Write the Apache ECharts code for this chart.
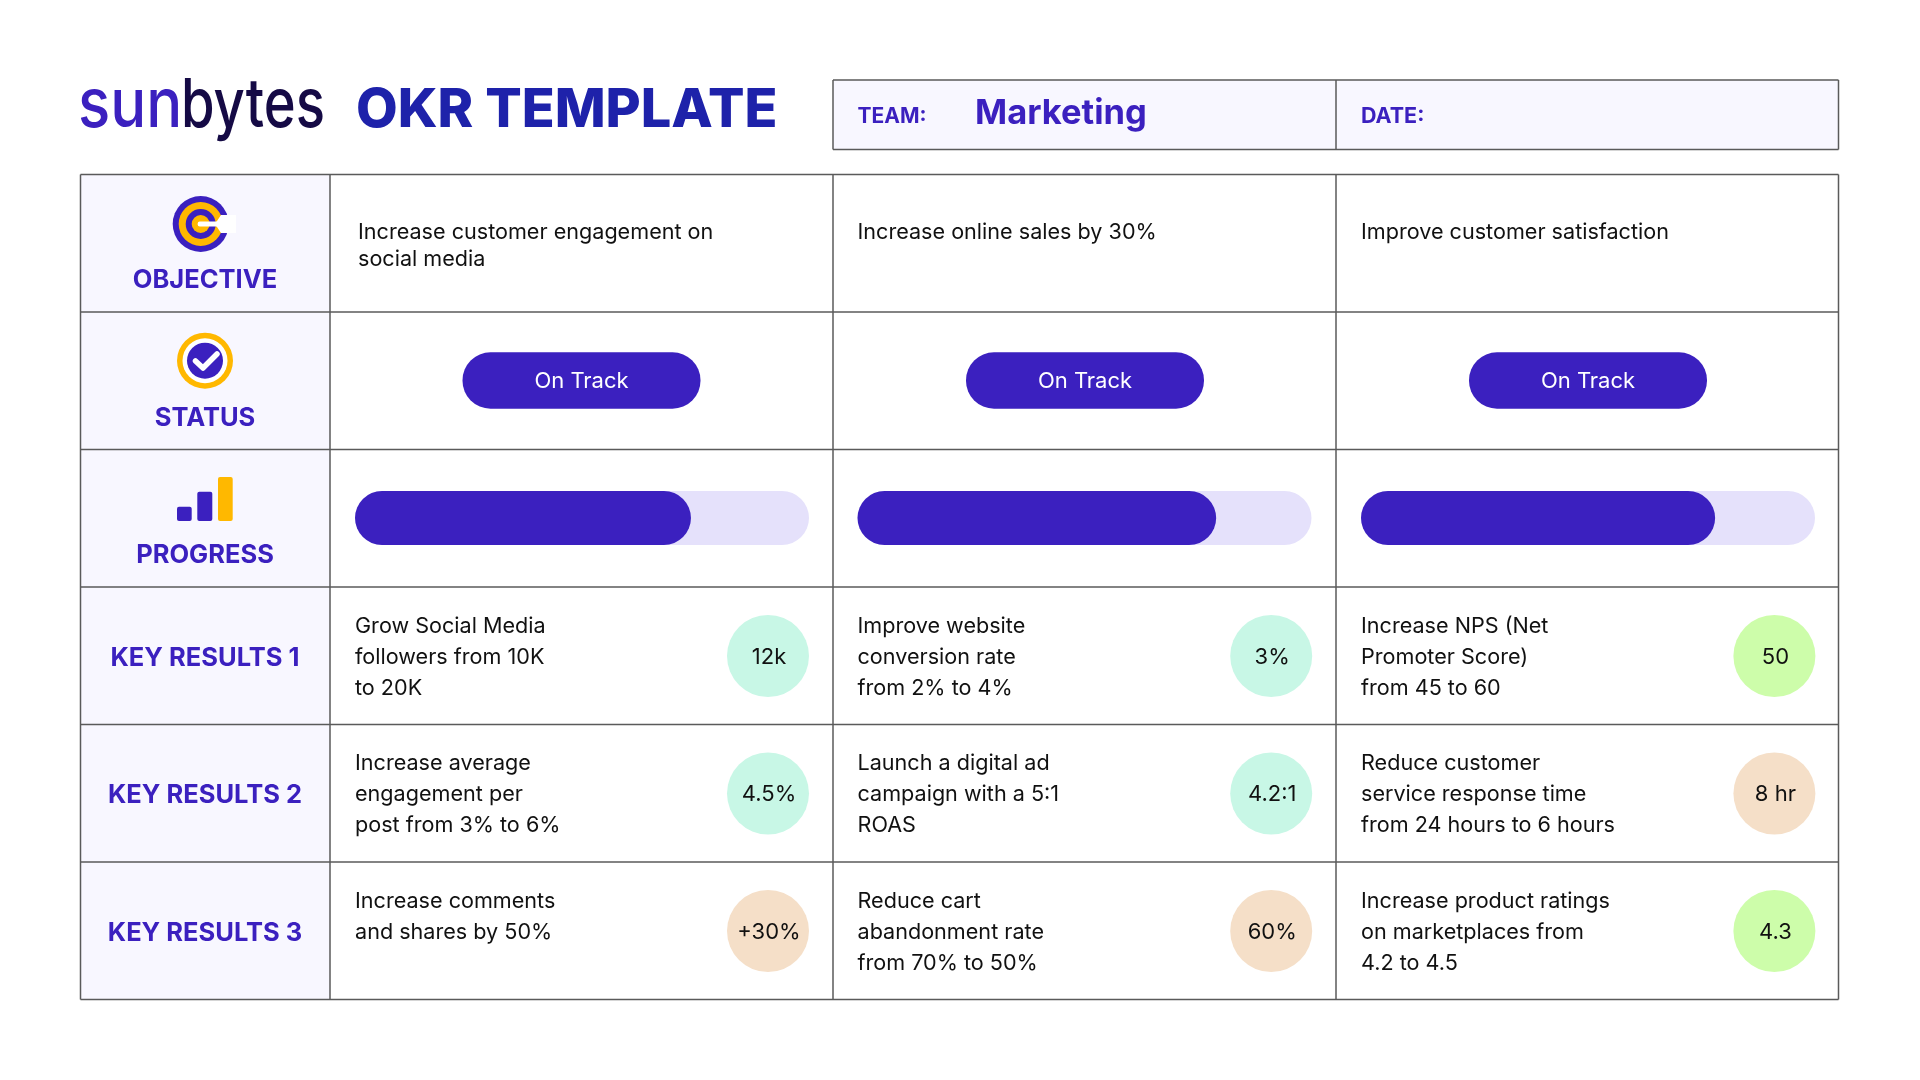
<!DOCTYPE html>
<html>

<head>
    <meta http-equiv="Content-Type" content="text/html; charset=utf-8">
    <title>OKR Template</title>
    <script src="https://cdn.jsdelivr.net/npm/echarts@6/dist/echarts.min.js"></script>
    <style>
        html, body { margin: 0; background: #fff; }
    </style>
</head>

<body>
    <div id="main" style="width: 1920px;height:1080px;"></div>
    <script type="text/javascript">
        var rowLabels = ['OBJECTIVE', 'STATUS', 'PROGRESS', 'KEY RESULTS 1', 'KEY RESULTS 2', 'KEY RESULTS 3'];
        var objectives = ['Increase customer engagement on\nsocial media', 'Increase online sales by 30%', 'Improve customer satisfaction'];
        var statuses = ['On Track', 'On Track', 'On Track'];
        var progressValues = [74, 79, 78];
        var keyResults = [
            ['Grow Social Media\nfollowers from 10K\nto 20K', 'Improve website\nconversion rate\nfrom 2% to 4%', 'Increase NPS (Net\nPromoter Score)\nfrom 45 to 60'],
            ['Increase average\nengagement per\npost from 3% to 6%', 'Launch a digital ad\ncampaign with a 5:1\nROAS', 'Reduce customer\nservice response time\nfrom 24 hours to 6 hours'],
            ['Increase comments\nand shares by 50%', 'Reduce cart\nabandonment rate\nfrom 70% to 50%', 'Increase product ratings\non marketplaces from\n4.2 to 4.5']
        ];
        var badgeLabels = [
            ['12k', '3%', '50'],
            ['4.5%', '4.2:1', '8 hr'],
            ['+30%', '60%', '4.3']
        ];
        var badgeColors = [
            ['#C8F7E6', '#C8F7E6', '#CDFDAA'],
            ['#C8F7E6', '#C8F7E6', '#F5DFC8'],
            ['#F5DFC8', '#F5DFC8', '#CDFDAA']
        ];

        var purple = '#3B20BF';
        var yellow = '#FFB800';
        var lineColor = '#5a5a5a';
        var cellBg = '#F8F7FF';
        var fontName = 'Inter';

        var rowY = [174.5, 312, 449.5, 587, 724.5, 862, 999.5];
        var colX = [80.5, 330, 833, 1336, 1838.5];
        var textX = [355, 857.5, 1361];
        var pillX = [581.5, 1085, 1588];

        function txt(s, x, y, size, weight, fill, align, valign, lh) {
            return {
                type: 'text',
                x: x,
                y: y,
                style: {
                    text: s,
                    fill: fill,
                    font: weight + ' ' + size + 'px ' + fontName,
                    textAlign: align || 'left',
                    textVerticalAlign: valign || 'middle',
                    lineHeight: lh
                }
            };
        }

        function hline(x1, x2, y) {
            return { type: 'line', shape: { x1: x1, y1: y, x2: x2, y2: y }, style: { stroke: lineColor, lineWidth: 1.5 } };
        }

        function vline(x, y1, y2) {
            return { type: 'line', shape: { x1: x, y1: y1, x2: x, y2: y2 }, style: { stroke: lineColor, lineWidth: 1.5 } };
        }

        function circle(cx, cy, r, fill) {
            return { type: 'circle', shape: { cx: cx, cy: cy, r: r }, style: { fill: fill } };
        }

        function box(x, y, w, h, r, fill) {
            return { type: 'rect', shape: { x: x, y: y, width: w, height: h, r: r }, style: { fill: fill } };
        }

        var elements = [];

        // header
        elements.push(box(colX[2], 80, colX[4] - colX[2], 69.5, 0, cellBg));
        elements.push(hline(colX[2], colX[4], 80), hline(colX[2], colX[4], 149.5));
        elements.push(vline(colX[2], 80, 149.5), vline(colX[3], 80, 149.5), vline(colX[4], 80, 149.5));

        var sun = txt('sun', 78, 107, 68, 500, purple);
        var bytes = txt('bytes', 181, 107, 68, 500, '#150A45');
        sun.scaleX = 0.88;
        bytes.scaleX = 0.8;
        elements.push(sun, bytes);

        elements.push(txt('OKR TEMPLATE', 356, 111, 54, 800, '#1E22AA'));
        elements.push(txt('TEAM:', 857.5, 116.5, 21, 700, purple));
        elements.push(txt('Marketing', 975, 113.5, 34.5, 700, purple));
        elements.push(txt('DATE:', 1361, 116.5, 21.5, 700, purple));

        // table
        elements.push(box(colX[0], rowY[0], colX[1] - colX[0], rowY[6] - rowY[0], 0, cellBg));
        rowY.forEach(function (y) {
            elements.push(hline(colX[0], colX[4], y));
        });
        colX.forEach(function (x) {
            elements.push(vline(x, rowY[0], rowY[6]));
        });

        var labelY = [280.5, 418, 555.5, 658, 795.5, 933];
        rowLabels.forEach(function (s, i) {
            elements.push(txt(s, 205, labelY[i], 25.5, 700, purple, 'center'));
        });

        // objective icon
        elements.push(circle(200.7, 224, 28, purple), circle(200.7, 224, 22, yellow), circle(200.7, 224, 15, purple), circle(200.7, 224, 9, yellow));
        elements.push(box(197.7, 221.5, 24, 5, 2, '#fff'));
        elements.push({ type: 'polygon', shape: { points: [[215, 224], [221, 215], [236, 215], [236, 233], [221, 233]] }, style: { fill: '#fff' } });

        // status icon
        elements.push(circle(205, 360.7, 28, yellow), circle(205, 360.7, 22.5, '#fff'), circle(205, 360.7, 18, purple));
        elements.push({ type: 'polyline', shape: { points: [[195.5, 361], [203, 368], [217, 354]] }, style: { stroke: '#fff', lineWidth: 5.5, fill: null, lineCap: 'round', lineJoin: 'round' } });

        // progress icon
        elements.push(box(177, 506.7, 14.7, 14.3, 2, purple), box(197.3, 491.7, 15, 29.3, 2, purple), box(218, 477, 14.7, 44, 2, yellow));

        // objective text, status pills
        objectives.forEach(function (s, i) {
            elements.push(txt(s, [358, 857.5, 1361][i], 219, 21.6, 400, '#111', 'left', 'top', 27));
        });
        statuses.forEach(function (s, i) {
            elements.push(box(pillX[i] - 119, 352.3, 238, 56.4, 28, purple));
            elements.push(txt(s, pillX[i], 381.5, 22, 400, '#fff', 'center'));
        });

        // key results text
        keyResults.forEach(function (row, r) {
            row.forEach(function (s, c) {
                elements.push(txt(s, textX[c], rowY[3 + r] + 23.5, 21.6, 400, '#111', 'left', 'top', 31));
            });
        });

        // progress bars, one grid per column
        var grids = [], xAxes = [], yAxes = [], series = [];
        progressValues.forEach(function (v, i) {
            grids.push({ left: textX[i], top: 491, width: 454, height: 54 });
            xAxes.push({ type: 'value', gridIndex: i, min: 0, max: 100, show: false });
            yAxes.push({ type: 'category', gridIndex: i, data: ['progress'], show: false });
            series.push({
                type: 'bar',
                xAxisIndex: i,
                yAxisIndex: i,
                data: [v],
                barWidth: 54,
                silent: true,
                itemStyle: { color: purple, borderRadius: 27 },
                showBackground: true,
                backgroundStyle: { color: '#E5E1FB', borderRadius: 27 }
            });
        });

        // result badges, the grid runs from first to last badge centre
        grids.push({ left: 768, top: 656, width: 1006.4, height: 275 });
        xAxes.push({ type: 'category', gridIndex: 3, boundaryGap: false, data: ['c1', 'c2', 'c3'], show: false });
        yAxes.push({ type: 'category', gridIndex: 3, boundaryGap: false, data: ['r1', 'r2', 'r3'], inverse: true, show: false });
        var badgeData = [];
        badgeLabels.forEach(function (row, r) {
            row.forEach(function (s, c) {
                badgeData.push({ value: [c, r], name: s, itemStyle: { color: badgeColors[r][c], opacity: 1 } });
            });
        });
        series.push({
            type: 'scatter',
            xAxisIndex: 3,
            yAxisIndex: 3,
            symbolSize: 82,
            silent: true,
            clip: false,
            data: badgeData,
            label: {
                show: true,
                position: 'inside',
                offset: [1, 1],
                color: '#111',
                fontFamily: fontName,
                fontSize: 22,
                formatter: function (p) { return p.name; }
            }
        });

        var chart = echarts.init(document.getElementById('main'));
        chart.setOption({
            animation: false,
            backgroundColor: '#fff',
            grid: grids,
            xAxis: xAxes,
            yAxis: yAxes,
            series: series,
            graphic: { elements: elements }
        });
    </script>
</body>

</html>
